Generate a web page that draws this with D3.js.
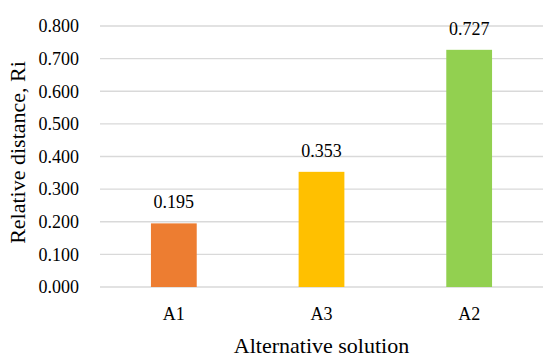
<!DOCTYPE html>
<html>
<head>
<meta charset="utf-8">
<script src="https://cdn.jsdelivr.net/npm/d3@7"></script>
<style>
  body { margin: 0; background: #fff; }
  svg text { font-family: "Liberation Serif", "DejaVu Serif", serif; fill: #000; }
</style>
</head>
<body>
<div id="chart"></div>
<script>
// chart data
var categories = ["A1", "A3", "A2"];
var values = [0.195, 0.353, 0.727];
var barColors = ["#ED7D31", "#FFC000", "#92D050"];
var yTicks = [0, 0.1, 0.2, 0.3, 0.4, 0.5, 0.6, 0.7, 0.8];

var margin = {top: 26, right: 7, bottom: 73, left: 100};
var width = 550 - margin.left - margin.right;
var height = 360 - margin.top - margin.bottom;

var svg = d3.select("#chart")
  .append("svg")
  .attr("width", 550)
  .attr("height", 360)
  .append("g")
  .attr("transform", "translate(" + margin.left + "," + margin.top + ")");

var x = d3.scaleBand().domain(categories).range([0, width]).paddingInner(0.69).paddingOuter(0.345);
var y = d3.scaleLinear().domain([0, 0.8]).range([height, 0]);

// gridlines
svg.append("g")
  .selectAll("line")
  .data(yTicks)
  .enter()
  .append("line")
  .attr("x1", 0)
  .attr("x2", width)
  .attr("y1", function(d) { return y(d); })
  .attr("y2", function(d) { return y(d); })
  .attr("stroke", "#D9D9D9")
  .attr("stroke-width", 1.3);

// y axis labels
var yAxis = svg.append("g")
  .call(d3.axisLeft(y).tickValues(yTicks).tickFormat(d3.format(".3f")).tickSize(0).tickPadding(21))
  .attr("font-family", null);
yAxis.select(".domain").remove();
yAxis.selectAll("text").style("font-size", "18px");

// x axis labels
var xAxis = svg.append("g")
  .attr("transform", "translate(0," + height + ")")
  .call(d3.axisBottom(x).tickSize(0).tickPadding(20))
  .attr("font-family", null);
xAxis.select(".domain").remove();
xAxis.selectAll("text").style("font-size", "18px");

// bars
svg.selectAll(".bar")
  .data(values)
  .enter()
  .append("rect")
  .attr("class", "bar")
  .attr("x", function(d, i) { return x(categories[i]); })
  .attr("width", x.bandwidth())
  .attr("y", function(d) { return y(d); })
  .attr("height", function(d) { return height - y(d); })
  .attr("fill", function(d, i) { return barColors[i]; });

// value labels
svg.selectAll(".value")
  .data(values)
  .enter()
  .append("text")
  .attr("x", function(d, i) { return x(categories[i]) + x.bandwidth() / 2; })
  .attr("y", function(d) { return y(d) - 15; })
  .attr("text-anchor", "middle")
  .style("font-size", "18px")
  .text(function(d) { return d3.format(".3f")(d); });

// axis titles
svg.append("text")
  .attr("x", width / 2)
  .attr("y", height + 66)
  .attr("text-anchor", "middle")
  .style("font-size", "22px")
  .text("Alternative solution");

svg.append("text")
  .attr("transform", "rotate(-90)")
  .attr("x", -(height / 2) + 4)
  .attr("y", -75)
  .attr("text-anchor", "middle")
  .style("font-size", "22px")
  .text("Relative distance, Ri");
</script>
</body>
</html>
